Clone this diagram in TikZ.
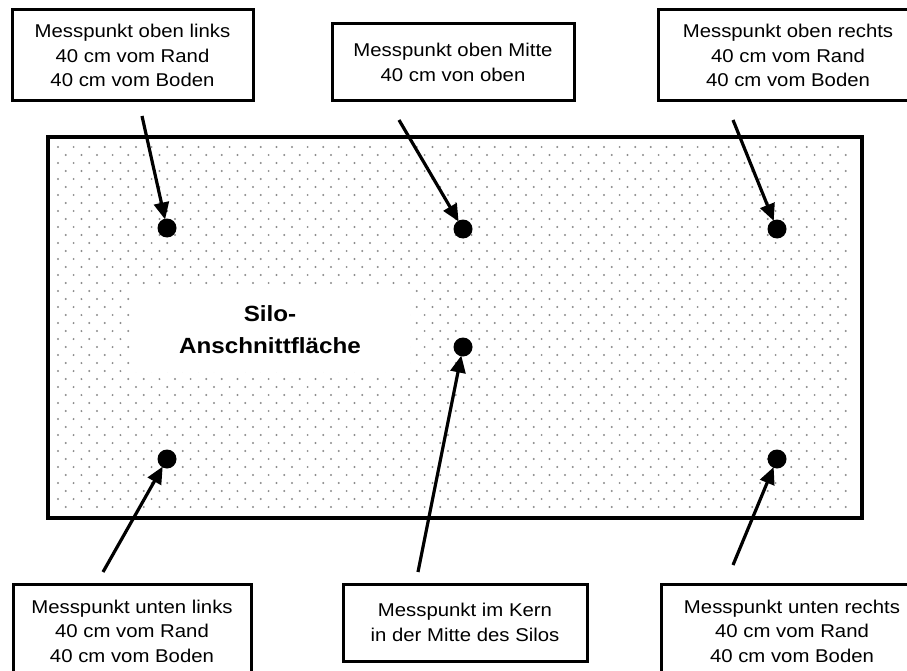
\documentclass[tikz,border=0pt]{standalone}
\usepackage{fontspec}
\setmainfont{Liberation Sans}[FakeStretch=1.1]
\usetikzlibrary{arrows.meta}
\definecolor{dotgray}{RGB}{140,140,140}
\begin{document}
\begin{tikzpicture}[x=1pt,y=-1pt,
  infobox/.style={draw=black,line width=3pt,fill=white,align=center,inner sep=0pt,
     font=\fontsize{18.5}{24.5}\selectfont},
  messpt/.style={circle,fill=black,minimum size=19pt,inner sep=0pt},
  pointer/.style={line width=3.2pt,-{Triangle[length=17pt,width=15pt]},shorten >=-1pt},
  pt/.style={fill=dotgray}]
\useasboundingbox (0,0) rectangle (907,671);
\clip (0,0) rectangle (907,671);
% silo face
\draw[line width=3.5pt,fill=white] (48,137) rectangle (862,518);
\foreach \r in {0,...,45}{
  \pgfmathsetmacro{\yy}{147+8*\r}
  \pgfmathsetmacro{\off}{mod(\r,2)*7.8}
  \foreach \c in {0,...,50}{
    \pgfmathsetmacro{\xx}{58+\off+15.6*\c}
    \ifdim\xx pt<857pt\relax\fill[pt] (\xx,\yy) circle (1.1pt);\fi
  }
}
\node[fill=white,minimum width=280pt,minimum height=84pt,inner sep=0pt,align=center,
  font=\bfseries\fontsize{22}{32}\selectfont] (label) at (270,330) {Silo-\\Anschnittfläche};
% boxes
\node[infobox,minimum width=241pt,minimum height=91pt] (tl) at (132.5,55.5)
  {Messpunkt oben links\\40 cm vom Rand\\40 cm vom Boden};
\node[infobox,minimum width=242pt,minimum height=77pt] (tm) at (453,62.5)
  {Messpunkt oben Mitte\\40 cm von oben};
\node[infobox,minimum width=260pt,minimum height=91pt] (tr) at (788,55.5)
  {Messpunkt oben rechts\\40 cm vom Rand\\40 cm vom Boden};
\node[infobox,minimum width=238pt,minimum height=94pt] (bl) at (132,631)
  {Messpunkt unten links\\40 cm vom Rand\\40 cm vom Boden};
\node[infobox,minimum width=244pt,minimum height=77pt] (bm) at (465,622.5)
  {Messpunkt im Kern\\in der Mitte des Silos};
\node[infobox,minimum width=262pt,minimum height=94pt] (br) at (792,631)
  {Messpunkt unten rechts\\40 cm vom Rand\\40 cm vom Boden};
% measuring points
\node[messpt] (ptl) at (167,228) {};
\node[messpt] (ptm) at (463,229) {};
\node[messpt] (ptr) at (777,229) {};
\node[messpt] (pc) at (463,347) {};
\node[messpt] (pbl) at (167,459) {};
\node[messpt] (pbr) at (777,459) {};
% arrow starts
\coordinate (stl) at (142,116);
\coordinate (stm) at (399,120);
\coordinate (str) at (733,120);
\coordinate (sbl) at (103,572);
\coordinate (sc) at (418,572);
\coordinate (sbr) at (733,565);
\draw[pointer] (stl) -- (ptl);
\draw[pointer] (stm) -- (ptm);
\draw[pointer] (str) -- (ptr);
\draw[pointer] (sbl) -- (pbl);
\draw[pointer] (sc) -- (pc);
\draw[pointer] (sbr) -- (pbr);
\end{tikzpicture}
\end{document}
